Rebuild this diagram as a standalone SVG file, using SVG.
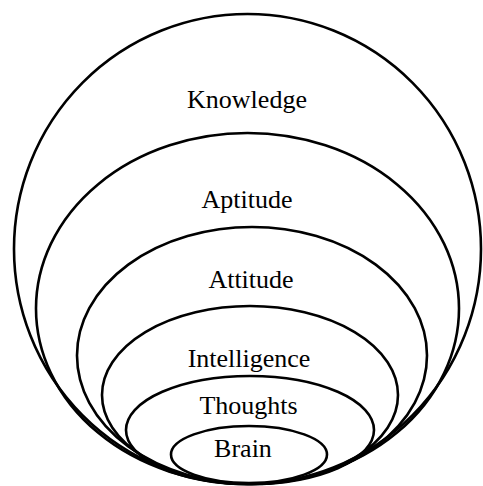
<svg xmlns="http://www.w3.org/2000/svg" width="483" height="486" viewBox="0 0 483 486">
<style>
.c{fill:none;stroke:#000;stroke-width:2.6}
.t{font-family:"Liberation Serif","Times New Roman",serif;font-size:26px;fill:#000;text-anchor:middle}
</style>
<rect width="483" height="486" fill="#fff"/>
<g id="knowledge"><ellipse class="c" cx="247.5" cy="249" rx="233.5" ry="235"/><text class="t" x="247" y="108">Knowledge</text></g>
<g id="aptitude"><ellipse class="c" cx="247.5" cy="308.5" rx="211.5" ry="175.5"/><text class="t" x="247" y="208">Aptitude</text></g>
<g id="attitude"><ellipse class="c" cx="252" cy="355.5" rx="175" ry="128.5"/><text class="t" x="251" y="288">Attitude</text></g>
<g id="intelligence"><ellipse class="c" cx="250" cy="395" rx="148" ry="89"/><text class="t" x="249" y="367">Intelligence</text></g>
<g id="thoughts"><ellipse class="c" cx="250" cy="430" rx="124" ry="54"/><text class="t" x="248.5" y="414">Thoughts</text></g>
<g id="brain"><ellipse class="c" cx="249" cy="454.5" rx="78" ry="28.5"/><text class="t" x="243" y="457">Brain</text></g>
<g id="connectors"/>
</svg>
